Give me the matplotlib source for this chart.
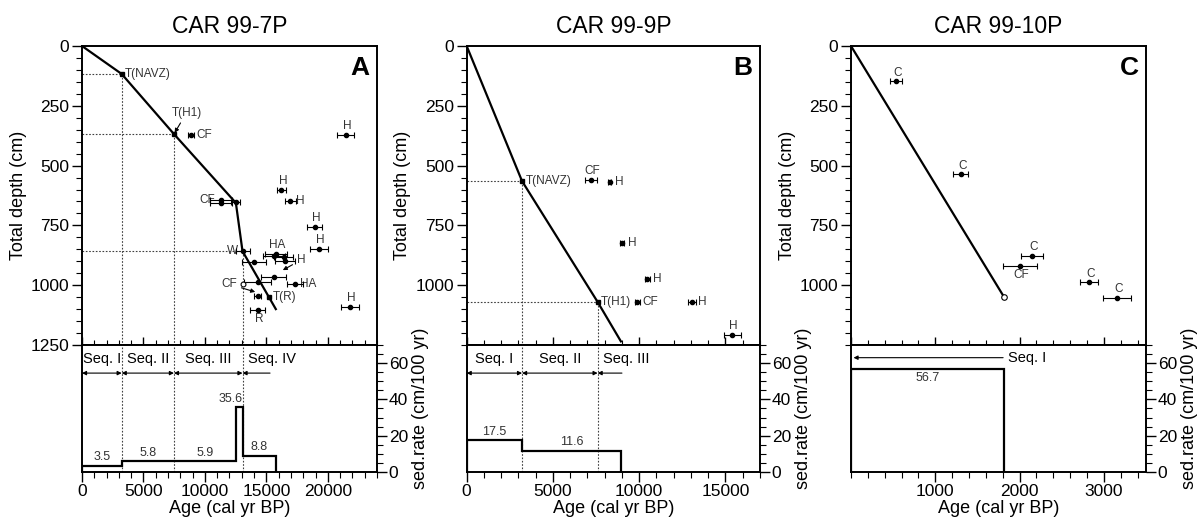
import matplotlib

matplotlib.use("Agg")
import matplotlib.pyplot as plt
from matplotlib.ticker import FixedLocator, MultipleLocator

plt.rcParams["font.family"] = ["Liberation Sans", "DejaVu Sans"]

titles = ["CAR 99-7P", "CAR 99-9P", "CAR 99-10P"]
letters = ["A", "B", "C"]

# CAR 99-7P: age model (cal yr BP / cm), sed. rates (cm/100 yr), dates
a_model_age = [0, 3230, 7480, 12520, 13060, 15770]
a_model_depth = [0, 117, 368, 656, 858, 1100]
a_rate_edges = [0, 3230, 7480, 12520, 13060, 15770]
a_rates = [3.5, 5.8, 5.9, 35.6, 8.8]
a_ties_age = [3230, 7480, 13060]
a_ties_depth = [117, 368, 858]
a_tephra_age = [3230, 7480, 15230]
a_tephra_depth = [117, 368, 1050]
a_tephra_names = ["T(NAVZ)", "", "T(R)"]
a_seq_names = ["Seq. I", "Seq. II", "Seq. III", "Seq. IV"]
a_seq_edges = [0, 3230, 7480, 13060, 15300]
a_date_age = [8860, 21440, 16230, 16960, 18940, 19300, 11300, 11300, 12500,
              13120, 15800, 15650, 16400, 14000, 16500, 15600, 14300, 17320,
              14300, 14280, 21790]
a_date_depth = [374, 371, 600, 646, 755, 847, 643, 658, 652, 857, 868, 880,
                884, 902, 898, 965, 985, 993, 1045, 1104, 1090]
a_date_err = [270, 660, 400, 470, 600, 720, 900, 900, 350, 550, 900, 900,
              750, 1000, 800, 1000, 1100, 680, 300, 650, 720]
a_date_labels = ["CF", "H", "H", "H", "H", "H", "CF", "", "", "W", "HA", "",
                 "", "", "", "", "", "HA", "", "R", "H"]
a_label_pos = ["r", "a", "a", "r", "a", "a", "l", "", "", "l", "a", "", "",
               "", "", "", "", "r", "", "b", "a"]

# CAR 99-9P
b_model_age = [0, 3210, 7590, 8940]
b_model_depth = [0, 565, 1070, 1235]
b_rate_edges = [0, 3210, 8940]
b_rates = [17.5, 11.6]
b_ties_age = [3210, 7590]
b_ties_depth = [565, 1070]
b_tephra_age = [3210, 7590]
b_tephra_depth = [565, 1070]
b_tephra_names = ["T(NAVZ)", "T(H1)"]
b_seq_names = ["Seq. I", "Seq. II", "Seq. III"]
b_seq_edges = [0, 3210, 7590, 9000]
b_date_age = [7210, 8290, 9020, 10480, 9890, 13070, 15400]
b_date_depth = [561, 567, 822, 975, 1070, 1070, 1208]
b_date_err = [360, 90, 115, 145, 145, 230, 500]
b_date_labels = ["CF", "H", "H", "H", "CF", "H", "H"]
b_label_pos = ["a", "r", "r", "r", "r", "r", "a"]

# CAR 99-10P
c_model_age = [0, 1817]
c_model_depth = [0, 1050]
c_rate_edges = [0, 1817]
c_rates = [56.7]
c_ties_age = []
c_ties_depth = []
c_tephra_age = []
c_tephra_depth = []
c_tephra_names = []
c_seq_names = ["Seq. I"]
c_seq_edges = [30, 1805]
c_date_age = [538, 1304, 2151, 2006, 2826, 3158]
c_date_depth = [148, 537, 877, 919, 988, 1053]
c_date_err = [70, 90, 130, 200, 105, 170]
c_date_labels = ["C", "C", "C", "CF", "C", "C"]
c_label_pos = ["a", "a", "a", "b", "a", "a"]

x_max = [24000, 17000, 3500]
x_major = [5000, 5000, 1000]
x_minor = [1000, 1000, 200]
x_labels = [[0, 5000, 10000, 15000, 20000], [0, 5000, 10000, 15000],
            [1000, 2000, 3000]]
depth_labels = [[0, 250, 500, 750, 1000, 1250], [0, 250, 500, 750, 1000],
                [0, 250, 500, 750, 1000]]

panels = [
    (a_model_age, a_model_depth, a_rate_edges, a_rates, a_ties_age, a_ties_depth,
     a_tephra_age, a_tephra_depth, a_tephra_names, a_seq_names, a_seq_edges,
     a_date_age, a_date_depth, a_date_err, a_date_labels, a_label_pos),
    (b_model_age, b_model_depth, b_rate_edges, b_rates, b_ties_age, b_ties_depth,
     b_tephra_age, b_tephra_depth, b_tephra_names, b_seq_names, b_seq_edges,
     b_date_age, b_date_depth, b_date_err, b_date_labels, b_label_pos),
    (c_model_age, c_model_depth, c_rate_edges, c_rates, c_ties_age, c_ties_depth,
     c_tephra_age, c_tephra_depth, c_tephra_names, c_seq_names, c_seq_edges,
     c_date_age, c_date_depth, c_date_err, c_date_labels, c_label_pos),
]

offsets = {"r": ((4, 0), "left", "center"), "l": ((-4, 0), "right", "center"),
           "a": ((1, 2), "center", "bottom"), "b": ((1, -2), "center", "top")}
dot = dict(color="0.25", lw=0.8, ls=(0, (1.5, 1.5)))
small = 8.5
tick_fs = 12.5
label_fs = 13

fig = plt.figure(figsize=(12.04, 5.25), dpi=100)
lefts = [0.0681, 0.3876, 0.7068]
widths = [0.245, 0.2436, 0.245]

for i, p in enumerate(panels):
    (m_age, m_depth, r_edges, rates, t_age, t_depth, te_age, te_depth, te_names,
     seq_names, seq_edges, d_age, d_depth, d_err, d_labels, d_pos) = p
    top = fig.add_axes([lefts[i], 0.3429, widths[i], 0.5695])
    bot = fig.add_axes([lefts[i], 0.101, widths[i], 0.2419])

    # age-depth panel
    top.plot(m_age, m_depth, color="k", lw=1.6, zorder=3)
    if i == 2:
        top.plot(m_age[-1], m_depth[-1], "o", mfc="white", mec="k", ms=4, mew=0.8, zorder=4)
    for ta, td in zip(t_age, t_depth):
        top.plot([0, ta], [td, td], **dot)
        top.plot([ta, ta], [td, 1250], **dot)
        bot.axvline(ta, **dot)
    top.plot(te_age, te_depth, "s", color="k", ms=3.5, zorder=4)
    for ta, td, name in zip(te_age, te_depth, te_names):
        if name:
            top.text(ta + 0.012 * x_max[i], td, name, fontsize=small, color="0.2",
                     ha="left", va="center")
    top.errorbar(d_age, d_depth, xerr=d_err, fmt="o", color="k", ms=3, lw=0.8,
                 capsize=2.2, capthick=0.8, zorder=4)
    for x, y, lab, pos in zip(d_age, d_depth, d_labels, d_pos):
        if lab:
            off, ha, va = offsets[pos]
            top.annotate(lab, (x, y), xytext=off, textcoords="offset points",
                         fontsize=small, color="0.2", ha=ha, va=va)
    if i == 0:
        arrow = dict(arrowstyle="-|>", color="k", lw=0.8, mutation_scale=6,
                     shrinkA=1, shrinkB=1)
        top.annotate("T(H1)", xy=(7480, 368), xytext=(8500, 280), fontsize=small,
                     color="0.2", ha="center", va="center", arrowprops=arrow)
        top.annotate("H", xy=(16240, 940), xytext=(17800, 895), fontsize=small,
                     color="0.2", ha="center", va="center", arrowprops=arrow)
        top.annotate("CF", xy=(14200, 1030), xytext=(12000, 996), fontsize=small,
                     color="0.2", ha="center", va="center", arrowprops=arrow)
        top.plot(13110, 996, "o", mfc="white", mec="k", ms=3.5, mew=0.8, zorder=4)

    top.set_xlim(0, x_max[i])
    top.set_ylim(1250, 0)
    top.yaxis.set_major_locator(FixedLocator(depth_labels[i]))
    top.yaxis.set_minor_locator(MultipleLocator(50))
    top.xaxis.set_major_locator(MultipleLocator(x_major[i]))
    top.xaxis.set_minor_locator(MultipleLocator(x_minor[i]))
    top.tick_params(axis="x", which="both", direction="in", labelbottom=False)
    top.tick_params(axis="y", which="both", direction="out", labelsize=tick_fs, pad=1.5)
    top.tick_params(which="major", length=7.5, width=1)
    top.tick_params(which="minor", length=4.5, width=0.8)
    top.tick_params(axis="x", which="major", length=6)
    top.tick_params(axis="x", which="minor", length=3.5)
    top.set_ylabel("Total depth (cm)", fontsize=label_fs, labelpad=3)
    top.set_title(titles[i], fontsize=16.5, pad=9)
    top.text(0.975, 0.965, letters[i], transform=top.transAxes, ha="right",
             va="top", fontsize=19, fontweight="bold")

    # sedimentation rate panel
    bot.stairs(rates, r_edges, baseline=0, color="k", lw=1.6, zorder=3)
    for k, r in enumerate(rates):
        x0, x1 = r_edges[k], r_edges[k + 1]
        if i == 2:
            bot.text((x0 + x1) / 2, r - 1.5, f"{r}", fontsize=small + 0.5,
                     color="0.2", ha="center", va="top")
        elif x1 - x0 < 0.08 * x_max[i]:
            bot.text(x1, r + 1.5, f"{r}", fontsize=small + 0.5, color="0.2",
                     ha="right", va="bottom")
        else:
            bot.text((x0 + x1) / 2, r + 1.5, f"{r}", fontsize=small + 0.5,
                     color="0.2", ha="center", va="bottom")
    seq_arrow = dict(color="k", lw=0.8, mutation_scale=6, shrinkA=0, shrinkB=0)
    if i == 2:
        bot.annotate("", xy=(seq_edges[1], 63), xytext=(seq_edges[0], 63),
                     arrowprops=dict(arrowstyle="<|-", **seq_arrow))
        bot.text(seq_edges[1] + 60, 63, seq_names[0], fontsize=10.5, ha="left",
                 va="center")
    else:
        n = len(seq_names)
        for k, name in enumerate(seq_names):
            x0, x1 = seq_edges[k], seq_edges[k + 1]
            style = "<|-|>" if k < n - 1 else "<|-"
            bot.annotate("", xy=(x1, 54.5), xytext=(x0, 54.5),
                         arrowprops=dict(arrowstyle=style, **seq_arrow))
            if k < n - 1:
                bot.text((x0 + x1) / 2, 62.5, name, fontsize=10.5, ha="center",
                         va="center")
            else:
                bot.text(x0 + 0.02 * x_max[i], 62.5, name, fontsize=10.5,
                         ha="left", va="center")

    bot.set_xlim(0, x_max[i])
    bot.set_ylim(0, 70)
    bot.xaxis.set_major_locator(FixedLocator(x_labels[i]))
    bot.xaxis.set_minor_locator(MultipleLocator(x_minor[i]))
    bot.yaxis.set_major_locator(FixedLocator([0, 20, 40, 60]))
    bot.yaxis.set_minor_locator(MultipleLocator(5))
    bot.yaxis.tick_right()
    bot.yaxis.set_label_position("right")
    bot.tick_params(which="both", direction="out", labelsize=tick_fs, pad=1.5)
    bot.tick_params(which="major", length=7, width=1)
    bot.tick_params(which="minor", length=4, width=0.8)
    bot.set_ylabel("sed.rate (cm/100 yr)", fontsize=label_fs, labelpad=3)
    bot.set_xlabel("Age (cal yr BP)", fontsize=label_fs, labelpad=1)

    for ax in (top, bot):
        for s in ax.spines.values():
            s.set_linewidth(1.4)

fig.savefig("out.png", dpi=100)
